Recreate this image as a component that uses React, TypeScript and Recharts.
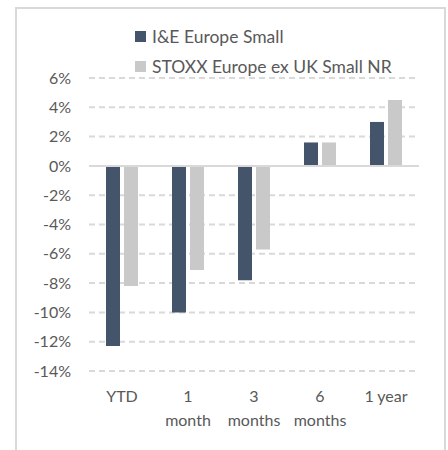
import React from 'react';
import { BarChart, Bar, XAxis, YAxis, CartesianGrid, ReferenceLine } from 'recharts';

const periods = ['YTD', '1 month', '3 months', '6 months', '1 year'];
const fundReturns = [-12.3, -10.0, -7.8, 1.6, 3.0];
const indexReturns = [-8.2, -7.1, -5.7, 1.6, 4.5];
const yTicks = [-14, -12, -10, -8, -6, -4, -2, 0, 2, 4, 6];

const seriesNames = ['I&E Europe Small', 'STOXX Europe ex UK Small NR'];
const seriesColors = ['#44546A', '#C9C9C9'];

const data = periods.map((p, i) => ({
  period: p,
  fund: fundReturns[i],
  index: indexReturns[i],
}));

const FONT = 'Lato, "Open Sans", sans-serif';

// split "1 month" style labels onto two lines, keep "1 year" / "YTD" on one
const PeriodTick = (props: any) => {
  const { x, y, payload } = props;
  const label: string = payload.value;
  const lines = /month/.test(label) ? label.split(' ') : [label];
  return (
    <text x={x} y={y} textAnchor="middle" fill="#595959" fontSize={16} fontFamily={FONT}>
      {lines.map((l, i) => (
        <tspan key={i} x={x} dy={i === 0 ? 0 : 24}>
          {l}
        </tspan>
      ))}
    </text>
  );
};

export default function App() {
  return (
    <div
      style={{
        position: 'absolute',
        left: 15,
        top: 7,
        width: 431,
        height: 460,
        border: '2px solid #D9D9D9',
        boxSizing: 'border-box',
        background: '#fff',
      }}
    >
      <div style={{ position: 'absolute', left: 118, top: 12, fontFamily: FONT, fontSize: 17.5, color: '#595959' }}>
        {seriesNames.map((name, i) => (
          <div key={name} style={{ display: 'flex', alignItems: 'center', height: 30.5 }}>
            <span style={{ width: 11, height: 11, background: seriesColors[i], marginRight: 6 }} />
            {name}
          </div>
        ))}
      </div>
      <BarChart
        width={427}
        height={441}
        data={data}
        margin={{ top: 69, right: 25, bottom: 0, left: 0 }}
        barGap={4}
        barSize={14}
      >
        <CartesianGrid vertical={false} stroke="#D9D9D9" strokeDasharray="6 4" strokeWidth={2} />
        <ReferenceLine y={0} stroke="#D9D9D9" strokeWidth={2} />
        <XAxis
          dataKey="period"
          axisLine={false}
          tickLine={false}
          tick={<PeriodTick />}
          interval={0}
          height={79}
          tickSize={0}
          tickMargin={31}
        />
        <YAxis
          domain={[-14, 6]}
          ticks={yTicks}
          tickFormatter={(v) => `${v}%`}
          axisLine={false}
          tickLine={false}
          width={72}
          tickSize={0}
          tickMargin={18}
          interval={0}
          tick={{ fill: '#595959', fontSize: 16, fontFamily: FONT }}
        />
        <Bar dataKey="fund" name={seriesNames[0]} fill={seriesColors[0]} isAnimationActive={false} />
        <Bar dataKey="index" name={seriesNames[1]} fill={seriesColors[1]} isAnimationActive={false} />
      </BarChart>
    </div>
  );
}
